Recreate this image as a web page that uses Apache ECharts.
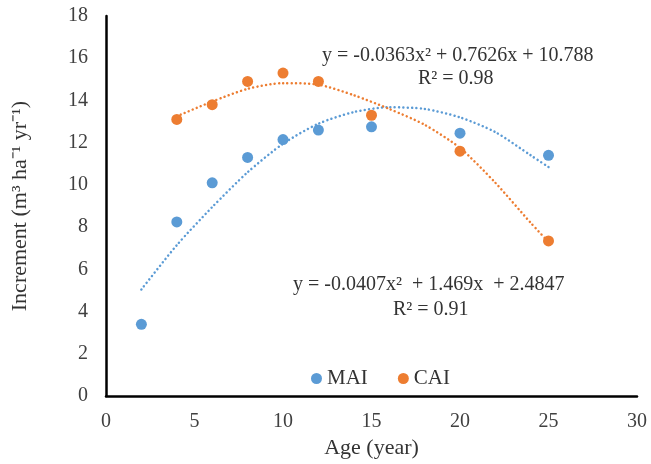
<!DOCTYPE html>
<html>
<head>
<meta charset="utf-8">
<script src="https://cdn.jsdelivr.net/npm/echarts@6/dist/echarts.min.js"></script>
<style>
  html, body { margin: 0; padding: 0; background: #fff; }
  #main { width: 651px; height: 464px; }
</style>
</head>
<body>
<div id="main"></div>
<script>
// measured points
var maiAge = [2, 4, 6, 8, 10, 12, 15, 20, 25];
var maiVal = [3.4, 8.25, 10.1, 11.3, 12.15, 12.6, 12.75, 12.45, 11.4];
var caiAge = [4, 6, 8, 10, 12, 15, 20, 25];
var caiVal = [13.1, 13.8, 14.9, 15.3, 14.9, 13.3, 11.6, 7.35];

// dotted trend curves
var maiTrendAge = [2, 4, 6, 8, 10, 12, 14, 16, 18, 20, 22, 24, 25];
var maiTrendVal = [5.05, 7.15, 8.95, 10.6, 11.95, 12.9, 13.45, 13.68, 13.6, 13.2, 12.5, 11.4, 10.85];
var caiTrendAge = [4, 6, 8, 10, 12, 14, 16, 18, 20, 22, 24, 25];
var caiTrendVal = [13.25, 13.95, 14.55, 14.82, 14.75, 14.25, 13.6, 12.85, 11.75, 10.1, 8.2, 7.3];

var eqCAI = 'y = -0.0363x² + 0.7626x + 10.788';
var r2CAI = 'R² = 0.98';
var eqMAI = 'y = -0.0407x²  + 1.469x  + 2.4847';
var r2MAI = 'R² = 0.91';

var blue = '#5B9BD5';
var orange = '#ED7D31';
var font = 'Liberation Serif';

function pairs(xs, ys) {
  return xs.map(function (x, i) { return [x, ys[i]]; });
}

var chart = echarts.init(document.getElementById('main'));

var option = {
  animation: false,
  textStyle: { fontFamily: font },
  grid: { left: 106, right: 14, top: 16, bottom: 60 },
  legend: {
    data: ['MAI', 'CAI'],
    left: 306,
    top: 363,
    icon: 'circle',
    itemWidth: 11,
    itemHeight: 11,
    itemGap: 30,
    textStyle: { fontFamily: font, fontSize: 21, color: '#333' }
  },
  xAxis: {
    type: 'value',
    min: 0, max: 30, interval: 5,
    name: 'Age (year)',
    nameLocation: 'middle',
    nameGap: 37,
    nameTextStyle: { fontFamily: font, fontSize: 22, color: '#333' },
    axisLine: { lineStyle: { color: '#000', width: 2.5 } },
    axisTick: { show: false },
    splitLine: { show: false },
    axisLabel: { fontFamily: font, fontSize: 20, color: '#404040', margin: 16 }
  },
  yAxis: {
    type: 'value',
    min: 0, max: 18, interval: 2,
    name: 'Increment (m³ ha⁻¹ yr⁻¹)',
    nameLocation: 'middle',
    nameGap: 75,
    nameTextStyle: { fontFamily: font, fontSize: 22, color: '#333' },
    axisLine: { show: true, lineStyle: { color: '#000', width: 2.5 } },
    axisTick: { show: false },
    splitLine: { show: false },
    axisLabel: { fontFamily: font, fontSize: 20, color: '#404040', margin: 18 }
  },
  series: [
    {
      name: 'MAI trend',
      type: 'line',
      data: pairs(maiTrendAge, maiTrendVal),
      smooth: 0.25,
      showSymbol: false,
      lineStyle: { color: blue, width: 2.5, type: [0.01, 4.3], cap: 'round' },
      z: 1
    },
    {
      name: 'CAI trend',
      type: 'line',
      data: pairs(caiTrendAge, caiTrendVal),
      smooth: 0.25,
      showSymbol: false,
      lineStyle: { color: orange, width: 2.5, type: [0.01, 4.3], cap: 'round' },
      z: 1
    },
    {
      name: 'MAI',
      type: 'scatter',
      data: pairs(maiAge, maiVal),
      symbolSize: 11,
      itemStyle: { color: blue, opacity: 1 },
      z: 3
    },
    {
      name: 'CAI',
      type: 'scatter',
      data: pairs(caiAge, caiVal),
      symbolSize: 11,
      itemStyle: { color: orange, opacity: 1 },
      z: 3
    }
  ],
  graphic: [
    { type: 'text', left: 322, top: 46, style: { text: eqCAI, font: '20px "Liberation Serif"', fill: '#333' } },
    { type: 'text', left: 418, top: 69, style: { text: r2CAI, font: '20px "Liberation Serif"', fill: '#333' } },
    { type: 'text', left: 293, top: 275, style: { text: eqMAI, font: '20px "Liberation Serif"', fill: '#333' } },
    { type: 'text', left: 393, top: 300, style: { text: r2MAI, font: '20px "Liberation Serif"', fill: '#333' } }
  ]
};

chart.setOption(option);
</script>
</body>
</html>
